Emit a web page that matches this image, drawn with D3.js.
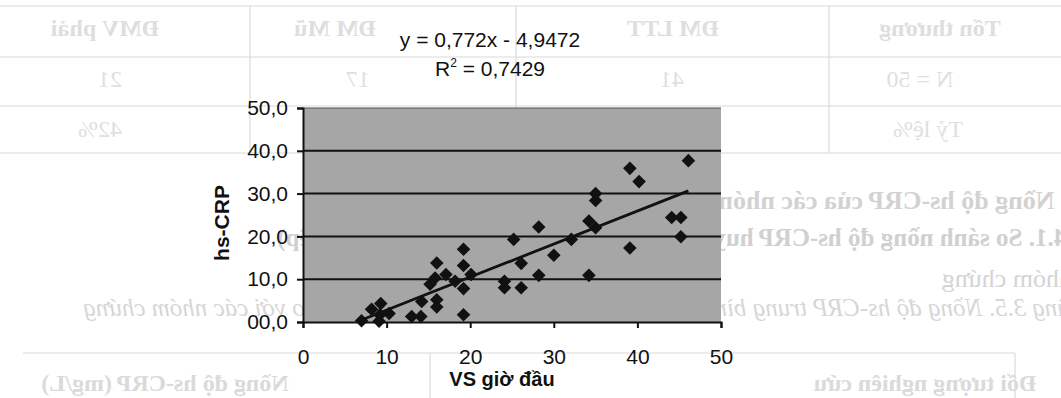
<!DOCTYPE html>
<html>
<head>
<meta charset="utf-8">
<script src="https://cdn.jsdelivr.net/npm/d3@7"></script>
<style>
  html, body { margin: 0; padding: 0; background: #fff; }
  svg { display: block; }
</style>
</head>
<body>
<svg id="chart" width="1061" height="398"></svg>
<script>
// VS giờ đầu (x) versus hs-CRP (y), one entry per patient
const vsHour = [7.0, 8.2, 9.3, 9.1, 10.3, 9.2, 13.0, 14.1, 14.2, 15.2, 16.0, 16.0, 16.0, 15.8,
                17.1, 18.2, 19.2, 19.2, 19.2, 19.2, 20.1, 24.1, 24.1, 25.2, 26.1, 26.1, 28.2,
                28.2, 30.0, 32.1, 34.2, 34.2, 35.0, 35.0, 35.0, 39.1, 39.1, 40.2, 44.1, 45.2,
                45.2, 46.1];
const hsCRP  = [0.3, 3.0, 4.3, 0.2, 2.0, 1.7, 1.3, 1.3, 4.8, 8.8, 13.8, 5.2, 3.5, 10.3,
                11.1, 9.5, 17.0, 13.2, 7.8, 1.7, 11.1, 9.5, 8.0, 19.3, 13.7, 8.0, 22.2,
                10.9, 15.6, 19.3, 10.9, 23.6, 22.0, 30.0, 28.4, 35.9, 17.3, 32.8, 24.4, 24.4,
                19.9, 37.7];

// Linear trendline as reported on the chart
const trendSlope = 0.772;
const trendIntercept = -4.9472;
const equationText = "y = 0,772x - 4,9472";
const r2Value = "0,7429";

// Axis ticks and their labels
const xTickValues = [0, 10, 20, 30, 40, 50];
const yTickValues = [0, 10, 20, 30, 40, 50];
const yTickLabels = ["00,0", "10,0", "20,0", "30,0", "40,0", "50,0"];
const xTitle = "VS giờ đầu";
const yTitle = "hs-CRP";

// Faint text showing through from the reverse side of the page (mirrored)
const backHeader = ["ĐMV phải", "ĐM Mũ", "ĐM LTT", "Tổn thương"];
const backRow1 = ["21", "17", "41", "N = 50"];
const backRow2 = ["42%", "Tỷ lệ%"];
const backLines = [
  "3.3. Nồng độ hs-CRP của các nhóm nghiên cứu",
  "3.4.1. So sánh nồng độ hs-CRP huyết thanh giữa các nhóm (trước can thiệp)",
  "nhóm chứng",
  "Bảng 3.5. Nồng độ hs-CRP trung bình của nhóm nghiên cứu trước can thiệp so với các nhóm chứng"
];
const backBoxHeader = ["Nồng độ hs-CRP (mg/L)", "Đối tượng nghiên cứu"];

const svg = d3.select("#chart");

// ---------- show-through layer ----------
const ghost = svg.append("g").attr("font-family", "'Liberation Serif', 'DejaVu Serif', serif");
const ghostLines = svg.append("g").attr("stroke", "#dadada").attr("stroke-width", 1.2);

[6, 57, 106, 153].forEach(y => ghostLines.append("line").attr("x1", 0).attr("x2", 1061).attr("y1", y).attr("y2", y));
[250, 516, 829].forEach(x => ghostLines.append("line").attr("x1", x).attr("x2", x).attr("y1", 6).attr("y2", 153));
ghostLines.append("line").attr("x1", 23).attr("x2", 1015).attr("y1", 353).attr("y2", 353);
ghostLines.append("line").attr("x1", 1015).attr("x2", 1015).attr("y1", 353).attr("y2", 398);
ghostLines.append("line").attr("x1", 430).attr("x2", 430).attr("y1", 353).attr("y2", 398);

function mirrored(text, cx, y, opts) {
  const g = ghost.append("g").attr("transform", `translate(${cx},${y}) scale(-1,1)`);
  g.append("text")
    .attr("text-anchor", opts.anchor || "middle")
    .attr("font-size", opts.size || 24)
    .attr("font-weight", opts.bold ? "bold" : "normal")
    .attr("font-style", opts.italic ? "italic" : "normal")
    .attr("fill", opts.color || "#dcdcdc")
    .text(text);
}
const headerX = [105, 335, 673, 940];
backHeader.forEach((t, i) => mirrored(t, headerX[i], 36, { bold: true, size: 24, color: "#dedede" }));
const row1X = [110, 358, 672, 920];
backRow1.forEach((t, i) => mirrored(t, row1X[i], 87, { size: 24, color: "#e0e0e0" }));
const row2X = [100, 928];
backRow2.forEach((t, i) => mirrored(t, row2X[i], 137, { size: 24, color: "#e0e0e0" }));
mirrored(backLines[0], 1100, 209, { bold: true, size: 26, anchor: "start", color: "#d2d2d2" });
mirrored(backLines[1], 1085, 246, { bold: true, size: 25, anchor: "start", color: "#d0d0d0" });
mirrored(backLines[2], 1072, 287, { size: 26, anchor: "start", color: "#d4d4d4" });
mirrored(backLines[3], 1085, 316, { italic: true, size: 25, anchor: "start", color: "#d6d6d6" });
mirrored(backBoxHeader[0], 165, 391, { bold: true, size: 24, color: "#dadada" });
mirrored(backBoxHeader[1], 925, 391, { bold: true, size: 24, color: "#dadada" });

// ---------- chart ----------
const plot = { left: 303, right: 721, top: 108, bottom: 322 };
const x = d3.scaleLinear().domain([0, 50]).range([plot.left, plot.right]);
const y = d3.scaleLinear().domain([0, 50]).range([plot.bottom, plot.top]);

const chart = svg.append("g");

chart.append("rect")
  .attr("x", plot.left).attr("y", plot.top)
  .attr("width", plot.right - plot.left).attr("height", plot.bottom - plot.top)
  .attr("fill", "#a6a6a6");

// horizontal gridlines
chart.append("g")
  .selectAll("line")
  .data(yTickValues.filter(v => v > 0))
  .join("line")
  .attr("x1", plot.left).attr("x2", plot.right)
  .attr("y1", d => y(d)).attr("y2", d => y(d))
  .attr("stroke", d => d === 50 ? "#555" : "#111")
  .attr("stroke-width", d => d === 50 ? 1.2 : 2);

const tickFont = "'Liberation Sans', Arial, sans-serif";

// y axis
const yAxis = d3.axisLeft(y).tickValues(yTickValues)
  .tickFormat((d, i) => yTickLabels[i]).tickSize(6).tickPadding(9);
const gy = chart.append("g").attr("transform", `translate(${plot.left},0)`).call(yAxis);
gy.select(".domain").attr("stroke", "#111").attr("stroke-width", 2);
gy.selectAll(".tick line").attr("stroke", "#111").attr("stroke-width", 2);
gy.selectAll(".tick text")
  .attr("font-family", tickFont).attr("font-size", 21).attr("fill", "#111");

// x axis (labels sit well below the plot)
const xAxis = d3.axisBottom(x).tickValues(xTickValues).tickSize(6).tickPadding(21);
const gx = chart.append("g").attr("transform", `translate(0,${plot.bottom})`).call(xAxis);
gx.select(".domain").attr("stroke", "#111").attr("stroke-width", 2);
gx.selectAll(".tick line").attr("stroke", "#111").attr("stroke-width", 2);
gx.selectAll(".tick text")
  .attr("font-family", tickFont).attr("font-size", 21).attr("fill", "#111");

// trendline over the data range
const xMin = d3.min(vsHour), xMax = d3.max(vsHour);
chart.append("line")
  .attr("x1", x(xMin)).attr("y1", y(trendSlope * xMin + trendIntercept))
  .attr("x2", x(xMax)).attr("y2", y(trendSlope * xMax + trendIntercept))
  .attr("stroke", "#111").attr("stroke-width", 2.8);

// diamond markers
const diamond = d3.symbol().type(d3.symbolSquare).size(92);
chart.append("g")
  .selectAll("path")
  .data(vsHour.map((v, i) => [v, hsCRP[i]]))
  .join("path")
  .attr("d", diamond)
  .attr("transform", d => `translate(${x(d[0])},${y(d[1])}) rotate(45)`)
  .attr("fill", "#111");

// axis titles
chart.append("text")
  .attr("x", 502).attr("y", 386)
  .attr("text-anchor", "middle")
  .attr("font-family", tickFont)
  .attr("font-size", 20).attr("font-weight", "bold").attr("fill", "#111")
  .text(xTitle);

chart.append("text")
  .attr("transform", "translate(229,223) rotate(-90)")
  .attr("text-anchor", "middle")
  .attr("font-family", tickFont)
  .attr("font-size", 21).attr("font-weight", "bold").attr("fill", "#111")
  .text(yTitle);

// trendline equation and R²
chart.append("text")
  .attr("x", 490).attr("y", 47)
  .attr("text-anchor", "middle")
  .attr("font-family", tickFont)
  .attr("font-size", 21).attr("fill", "#111")
  .text(equationText);

const r2 = chart.append("text")
  .attr("x", 490).attr("y", 76)
  .attr("text-anchor", "middle")
  .attr("font-family", tickFont)
  .attr("font-size", 21).attr("fill", "#111");
r2.append("tspan").text("R");
r2.append("tspan").attr("font-size", 12).attr("dy", -9).text("2");
r2.append("tspan").attr("dy", 9).text(" = " + r2Value);
</script>
</body>
</html>
